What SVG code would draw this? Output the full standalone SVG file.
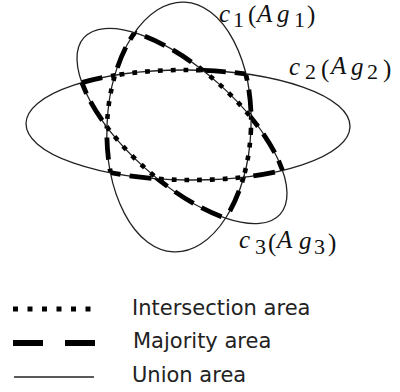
<svg xmlns="http://www.w3.org/2000/svg" xmlns:xlink="http://www.w3.org/1999/xlink" width="400" height="392" viewBox="0 0 400 392">
<style>
.thin{fill:none;stroke:#222;stroke-width:1.3}
.dash{fill:none;stroke:#000;stroke-width:4.8;stroke-dasharray:22 9}
.dot{fill:none;stroke:#000;stroke-width:4.6;stroke-dasharray:4.8 8}
.lbl{font-family:"Liberation Serif","DejaVu Serif",serif;font-size:25px;fill:#111}
.it{font-style:italic}
.sub{font-size:22px}
.par{font-size:25px}
.leg{font-family:"DejaVu Sans","Liberation Sans",sans-serif;font-size:21px;fill:#222}
</style>
<defs>
<ellipse id="e1" cx="179" cy="127" rx="72" ry="125" transform="rotate(2.5 179 127)"/>
<ellipse id="e2" cx="188" cy="125" rx="162" ry="55" transform="rotate(0.5 188 125)"/>
<ellipse id="e3" cx="182" cy="126" rx="132" ry="56" transform="rotate(42 182 126)"/>
<clipPath id="in1"><use xlink:href="#e1"/></clipPath>
<clipPath id="in2"><use xlink:href="#e2"/></clipPath>
<clipPath id="in3"><use xlink:href="#e3"/></clipPath>
<mask id="out1" maskUnits="userSpaceOnUse" x="0" y="0" width="400" height="392"><rect width="400" height="392" fill="#fff"/><use xlink:href="#e1" fill="#000"/></mask>
<mask id="out2" maskUnits="userSpaceOnUse" x="0" y="0" width="400" height="392"><rect width="400" height="392" fill="#fff"/><use xlink:href="#e2" fill="#000"/></mask>
<mask id="out3" maskUnits="userSpaceOnUse" x="0" y="0" width="400" height="392"><rect width="400" height="392" fill="#fff"/><use xlink:href="#e3" fill="#000"/></mask>
</defs>
<rect width="400" height="392" fill="#fff"/>
<g id="ellipse-c1">
<use xlink:href="#e1" class="thin"/>
<g clip-path="url(#in2)" mask="url(#out3)"><use xlink:href="#e1" class="dash"/></g>
<g clip-path="url(#in3)" mask="url(#out2)"><use xlink:href="#e1" class="dash"/></g>
<g clip-path="url(#in2)"><g clip-path="url(#in3)"><use xlink:href="#e1" class="dot"/></g></g>
</g>
<g id="ellipse-c2">
<use xlink:href="#e2" class="thin"/>
<g clip-path="url(#in1)" mask="url(#out3)"><use xlink:href="#e2" class="dash"/></g>
<g clip-path="url(#in3)" mask="url(#out1)"><use xlink:href="#e2" class="dash"/></g>
<g clip-path="url(#in1)"><g clip-path="url(#in3)"><use xlink:href="#e2" class="dot"/></g></g>
</g>
<g id="ellipse-c3">
<use xlink:href="#e3" class="thin"/>
<g clip-path="url(#in1)" mask="url(#out2)"><use xlink:href="#e3" class="dash"/></g>
<g clip-path="url(#in2)" mask="url(#out1)"><use xlink:href="#e3" class="dash"/></g>
<g clip-path="url(#in1)"><g clip-path="url(#in2)"><use xlink:href="#e3" class="dot"/></g></g>
</g>
<g id="label-c1">
<text class="lbl"><tspan class="it" x="219" y="22">c</tspan><tspan class="sub" x="233" y="27">1</tspan><tspan class="par" x="248" y="23">(</tspan><tspan class="it" x="257" y="22">A</tspan><tspan class="it" x="277" y="22">g</tspan><tspan class="sub" x="294" y="27">1</tspan><tspan class="par" x="307" y="23">)</tspan></text>
</g>
<g id="label-c2">
<text class="lbl"><tspan class="it" x="289" y="75">c</tspan><tspan class="sub" x="305" y="79">2</tspan><tspan class="par" x="321" y="77">(</tspan><tspan class="it" x="331" y="74">A</tspan><tspan class="it" x="351" y="75">g</tspan><tspan class="sub" x="367" y="79">2</tspan><tspan class="par" x="383" y="77">)</tspan></text>
</g>
<g id="label-c3">
<text class="lbl"><tspan class="it" x="239" y="248">c</tspan><tspan class="sub" x="255" y="254">3</tspan><tspan class="par" x="268" y="251">(</tspan><tspan class="it" x="277" y="248">A</tspan><tspan class="it" x="299" y="249">g</tspan><tspan class="sub" x="314" y="254">3</tspan><tspan class="par" x="328" y="251">)</tspan></text>
</g>
<g id="legend">
<line x1="13" y1="309" x2="95" y2="309" class="dot" style="stroke-width:5;stroke-dasharray:5 9.5"/>
<text class="leg" x="132" y="315">Intersection area</text>
<line x1="13" y1="343" x2="95" y2="343" class="dash" style="stroke-width:6;stroke-dasharray:30 22"/>
<text class="leg" x="133" y="348">Majority area</text>
<line x1="14" y1="377" x2="94" y2="377" class="thin"/>
<text class="leg" x="132" y="382">Union area</text>
</g>
</svg>
